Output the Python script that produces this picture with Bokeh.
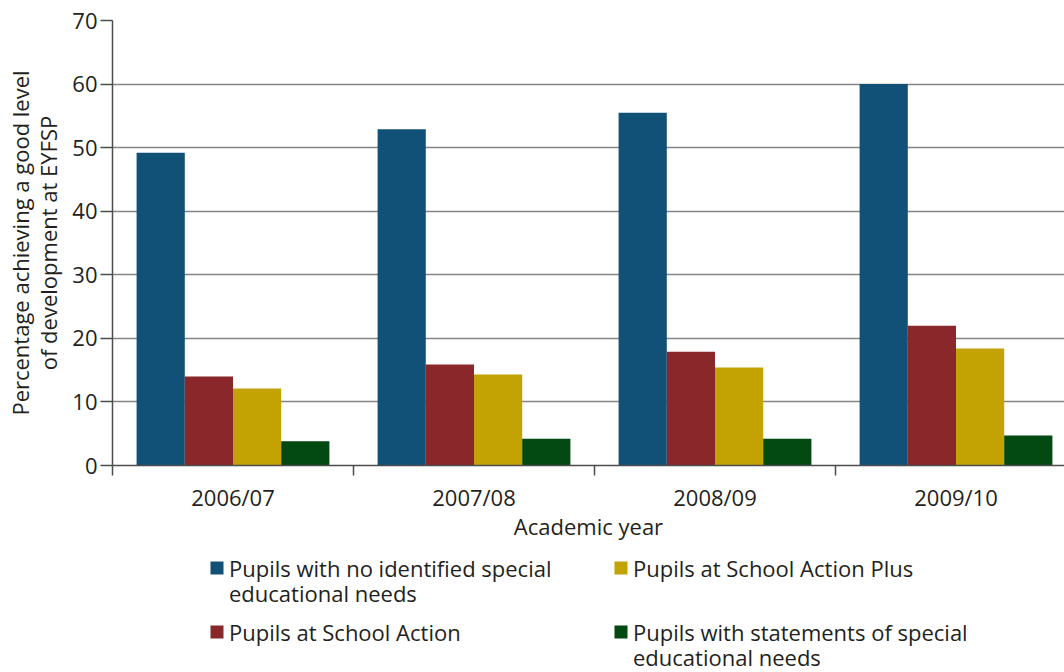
from bokeh.plotting import figure
from bokeh.layouts import column
from bokeh.models import ColumnDataSource, Range1d, FixedTicker
from bokeh.transform import dodge
from bokeh.core.properties import value
from bokeh.embed import file_html
from bokeh.resources import INLINE

years = ["2006/07", "2007/08", "2008/09", "2009/10"]
series_names = [
    "Pupils with no identified special\neducational needs",
    "Pupils at School Action",
    "Pupils at School Action Plus",
    "Pupils with statements of special\neducational needs",
]
no_sen = [49.2, 52.9, 55.5, 60.0]
school_action = [14.0, 15.9, 17.9, 22.0]
school_action_plus = [12.1, 14.3, 15.4, 18.4]
statements = [3.8, 4.2, 4.2, 4.7]
colors = ["#115177", "#8a272a", "#c3a204", "#024912"]
y_ticks = [0, 10, 20, 30, 40, 50, 60, 70]

FONT = "Open Sans"
TXT = "#231f20"
AX = "#4d4d4d"

src = ColumnDataSource(dict(
    x=[i + 0.5 for i in range(len(years))],
    s0=no_sen, s1=school_action, s2=school_action_plus, s3=statements,
))

p = figure(width=1064, height=545, x_range=Range1d(0, 952 / 241), y_range=Range1d(0, 70),
           output_backend="svg", toolbar_location=None,
           min_border_left=112, min_border_right=0, min_border_top=20, min_border_bottom=80)
p.outline_line_color = None
p.background_fill_color = "white"
p.border_fill_color = "white"

offsets = [-0.3, -0.1, 0.1, 0.3]
for k, col in enumerate(["s0", "s1", "s2", "s3"]):
    p.vbar(x=dodge("x", offsets[k]), top=col, width=0.2, bottom=0, source=src,
           fill_color=colors[k], line_color=None)

# x axis
p.xaxis.ticker = FixedTicker(ticks=[i + 0.5 for i in range(len(years))],
                             minor_ticks=list(range(len(years) + 1)))
p.xaxis.major_label_overrides = {i + 0.5: y for i, y in enumerate(years)}
p.xaxis.major_tick_out = 0
p.xaxis.major_tick_in = 0
p.xaxis.minor_tick_out = 10
p.xaxis.minor_tick_in = 0
p.xaxis.minor_tick_line_color = AX
p.xaxis.minor_tick_line_width = 1.5
p.xaxis.axis_line_color = AX
p.xaxis.axis_line_width = 1.5
p.xaxis.major_label_standoff = 6
p.xaxis.axis_label = "Academic year"
p.xaxis.axis_label_standoff = -4
p.xaxis.axis_label_text_font_style = "normal"

# y axis
p.yaxis.ticker = FixedTicker(ticks=y_ticks)
p.yaxis.major_tick_out = 12
p.yaxis.major_tick_in = 0
p.yaxis.minor_tick_line_color = None
p.yaxis.major_tick_line_color = AX
p.yaxis.major_tick_line_width = 1.5
p.yaxis.axis_line_color = AX
p.yaxis.axis_line_width = 1.5
p.yaxis.major_label_standoff = 3
p.yaxis.axis_label = "Percentage achieving a good level\nof development at EYFSP"
p.yaxis.axis_label_standoff = 6
p.yaxis.axis_label_text_font_style = "normal"
p.yaxis.axis_label_text_line_height = 0.95

for ax in (p.xaxis, p.yaxis):
    ax.major_label_text_font = FONT
    ax.major_label_text_font_size = "22px"
    ax.major_label_text_color = TXT
    ax.axis_label_text_font = FONT
    ax.axis_label_text_font_size = "22px"
    ax.axis_label_text_color = TXT

p.xgrid.grid_line_color = None
p.ygrid.ticker = FixedTicker(ticks=y_ticks)
p.ygrid.grid_line_color = "#858585"
p.ygrid.grid_line_width = 1.3

# legend figure (pixel coordinates aligned with the main figure)
leg = figure(width=1064, height=127, x_range=Range1d(112, 1064), y_range=Range1d(127, 0),
             output_backend="svg", toolbar_location=None,
             min_border_left=112, min_border_right=0, min_border_top=0, min_border_bottom=0)
leg.axis.visible = False
leg.grid.grid_line_color = None
leg.outline_line_color = None

col_x = [216.5, 620.5]
row_y = [22.5, 86.5]
order = [(0, 0), (0, 1), (1, 0), (1, 1)]  # (col,row) for each series
lsrc = ColumnDataSource(dict(
    sx=[col_x[c] for c, r in order],
    sy=[row_y[r] for c, r in order],
    tx=[col_x[c] + 12 for c, r in order],
    ty=[row_y[r] - 15.5 for c, r in order],
    label=series_names,
    color=colors,
))
leg.rect(x="sx", y="sy", width=13, height=13, width_units="screen", height_units="screen",
         fill_color="color", line_color=None, source=lsrc)
leg.text(x="tx", y="ty", text="label", source=lsrc, text_font=value(FONT),
         text_font_size="22px", text_color=TXT, text_baseline="top", text_align="left",
         text_line_height=0.84)

layout = column(p, leg, spacing=0)
open("out.html", "w").write(file_html(layout, INLINE))
